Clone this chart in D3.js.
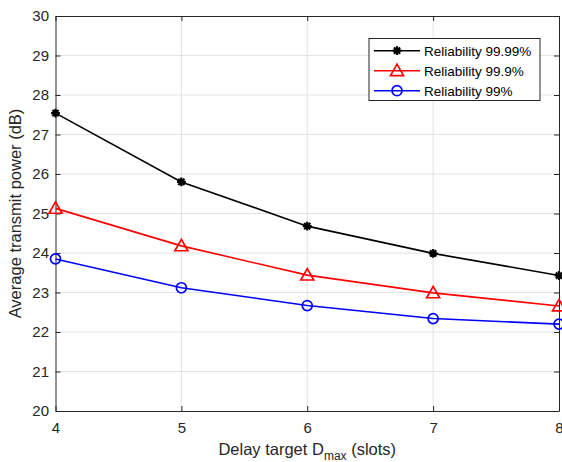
<!DOCTYPE html>
<html><head><meta charset="utf-8">
<script src="https://cdn.jsdelivr.net/npm/d3@7"></script>
<style>body{margin:0;background:#fff}svg{display:block}text{font-family:"Liberation Sans",Arial,sans-serif}</style>
</head><body>
<svg id="c" width="562" height="462"></svg>
<script>
const delays = [4, 5, 6, 7, 8];
const rel9999 = [27.54, 25.80, 24.68, 23.99, 23.43];
const rel999 = [25.13, 24.18, 23.44, 22.99, 22.66];
const rel99 = [23.85, 23.12, 22.67, 22.34, 22.20];
const yTicks = [20, 21, 22, 23, 24, 25, 26, 27, 28, 29, 30];
const seriesNames = ["Reliability 99.99%", "Reliability 99.9%", "Reliability 99%"];

const svg = d3.select("#c");
const L = 55.5, R = 559, T = 16, B = 411;
const x = d3.scaleLinear().domain([4, 8]).range([L, R]);
const y = d3.scaleLinear().domain([20, 30]).range([B, T]);

// grid
const g = svg.append("g");
g.selectAll(".vg").data(delays.slice(1, -1)).enter().append("line")
  .attr("x1", d => x(d)).attr("x2", d => x(d)).attr("y1", T).attr("y2", B)
  .attr("stroke", "#e3e3e3").attr("stroke-width", 1);
g.selectAll(".hg").data(yTicks.slice(1, -1)).enter().append("line")
  .attr("y1", d => y(d)).attr("y2", d => y(d)).attr("x1", L).attr("x2", R)
  .attr("stroke", "#e3e3e3").attr("stroke-width", 1);

// axes
const ax = d3.axisBottom(x).tickValues(delays).tickFormat(d3.format("d")).tickSizeInner(-5).tickSizeOuter(0).tickPadding(11);
const ay = d3.axisLeft(y).tickValues(yTicks).tickFormat(d3.format("d")).tickSizeInner(-5).tickSizeOuter(0).tickPadding(6.5);
const axT = d3.axisTop(x).tickValues(delays).tickFormat("").tickSizeInner(-5).tickSizeOuter(0);
const ayR = d3.axisRight(y).tickValues(yTicks).tickFormat("").tickSizeInner(-5).tickSizeOuter(0);
function styleAxis(s){
  s.selectAll("path").attr("stroke", "#262626").attr("stroke-width", 1);
  s.selectAll("line").attr("stroke", "#262626");
  s.selectAll("text").attr("fill", "#262626").style("font-size", "15px").style("font-family", '"Liberation Sans",Arial,sans-serif');
}
svg.append("g").attr("transform", `translate(0,${B})`).call(ax).call(styleAxis);
svg.append("g").attr("transform", `translate(${L},0)`).call(ay).call(styleAxis);
svg.append("g").attr("transform", `translate(0,${T})`).call(axT).call(styleAxis);
svg.append("g").attr("transform", `translate(${R},0)`).call(ayR).call(styleAxis);

// labels
svg.append("text").attr("x", (L + R) / 2).attr("y", 455).attr("text-anchor", "middle")
  .style("font-size", "16.5px").attr("fill", "#262626")
  .html('Delay target D<tspan dy="5" style="font-size:12px">max</tspan><tspan dy="-5"> (slots)</tspan>');
svg.append("text").attr("transform", `translate(21,${(T + B) / 2}) rotate(-90)`).attr("text-anchor", "middle")
  .style("font-size", "16.5px").attr("fill", "#262626").text("Average transmit power (dB)");

const series = [
  {name: seriesNames[0], vals: rel9999, color: "#000000", marker: "star"},
  {name: seriesNames[1], vals: rel999, color: "#ff0000", marker: "tri"},
  {name: seriesNames[2], vals: rel99, color: "#0000ff", marker: "circ"}
];
const line = d3.line().x((d, i) => x(delays[i])).y(d => y(d));

function drawMarker(sel, type, color, cx, cy){
  if (type === "circ") {
    sel.append("circle").attr("cx", cx).attr("cy", cy).attr("r", 5)
      .attr("fill", "none").attr("stroke", color).attr("stroke-width", 1.7);
  } else if (type === "tri") {
    const s = 6.5;
    sel.append("path").attr("d", `M${cx},${cy - s}L${cx + s},${cy + s * 0.75}L${cx - s},${cy + s * 0.75}Z`)
      .attr("fill", "none").attr("stroke", color).attr("stroke-width", 1.7);
  } else {
    const s = 4.4;
    const p = [];
    for (let k = 0; k < 4; k++) {
      const a = k * Math.PI / 4;
      p.push(`M${cx - s * Math.cos(a)},${cy - s * Math.sin(a)}L${cx + s * Math.cos(a)},${cy + s * Math.sin(a)}`);
    }
    sel.append("path").attr("d", p.join("")).attr("stroke", color).attr("stroke-width", 2.2).attr("fill", "none");
  }
}

series.forEach(s => {
  svg.append("path").datum(s.vals).attr("d", line).attr("fill", "none")
    .attr("stroke", s.color).attr("stroke-width", 1.6);
  const mg = svg.append("g");
  s.vals.forEach((v, i) => drawMarker(mg, s.marker, s.color, x(delays[i]), y(v)));
});

// legend
const lg = svg.append("g");
lg.append("rect").attr("x", 369).attr("y", 38.5).attr("width", 171).attr("height", 62)
  .attr("fill", "#fff").attr("stroke", "#262626").attr("stroke-width", 1);
series.forEach((s, i) => {
  const yy = 50.7 + i * 20;
  lg.append("line").attr("x1", 374).attr("x2", 420).attr("y1", yy).attr("y2", yy)
    .attr("stroke", s.color).attr("stroke-width", 1.6);
  drawMarker(lg, s.marker, s.color, 397, yy);
  lg.append("text").attr("x", 424).attr("y", yy + 4.8).style("font-size", "13.5px")
    .attr("fill", "#000").text(s.name);
});
</script>
</body></html>
